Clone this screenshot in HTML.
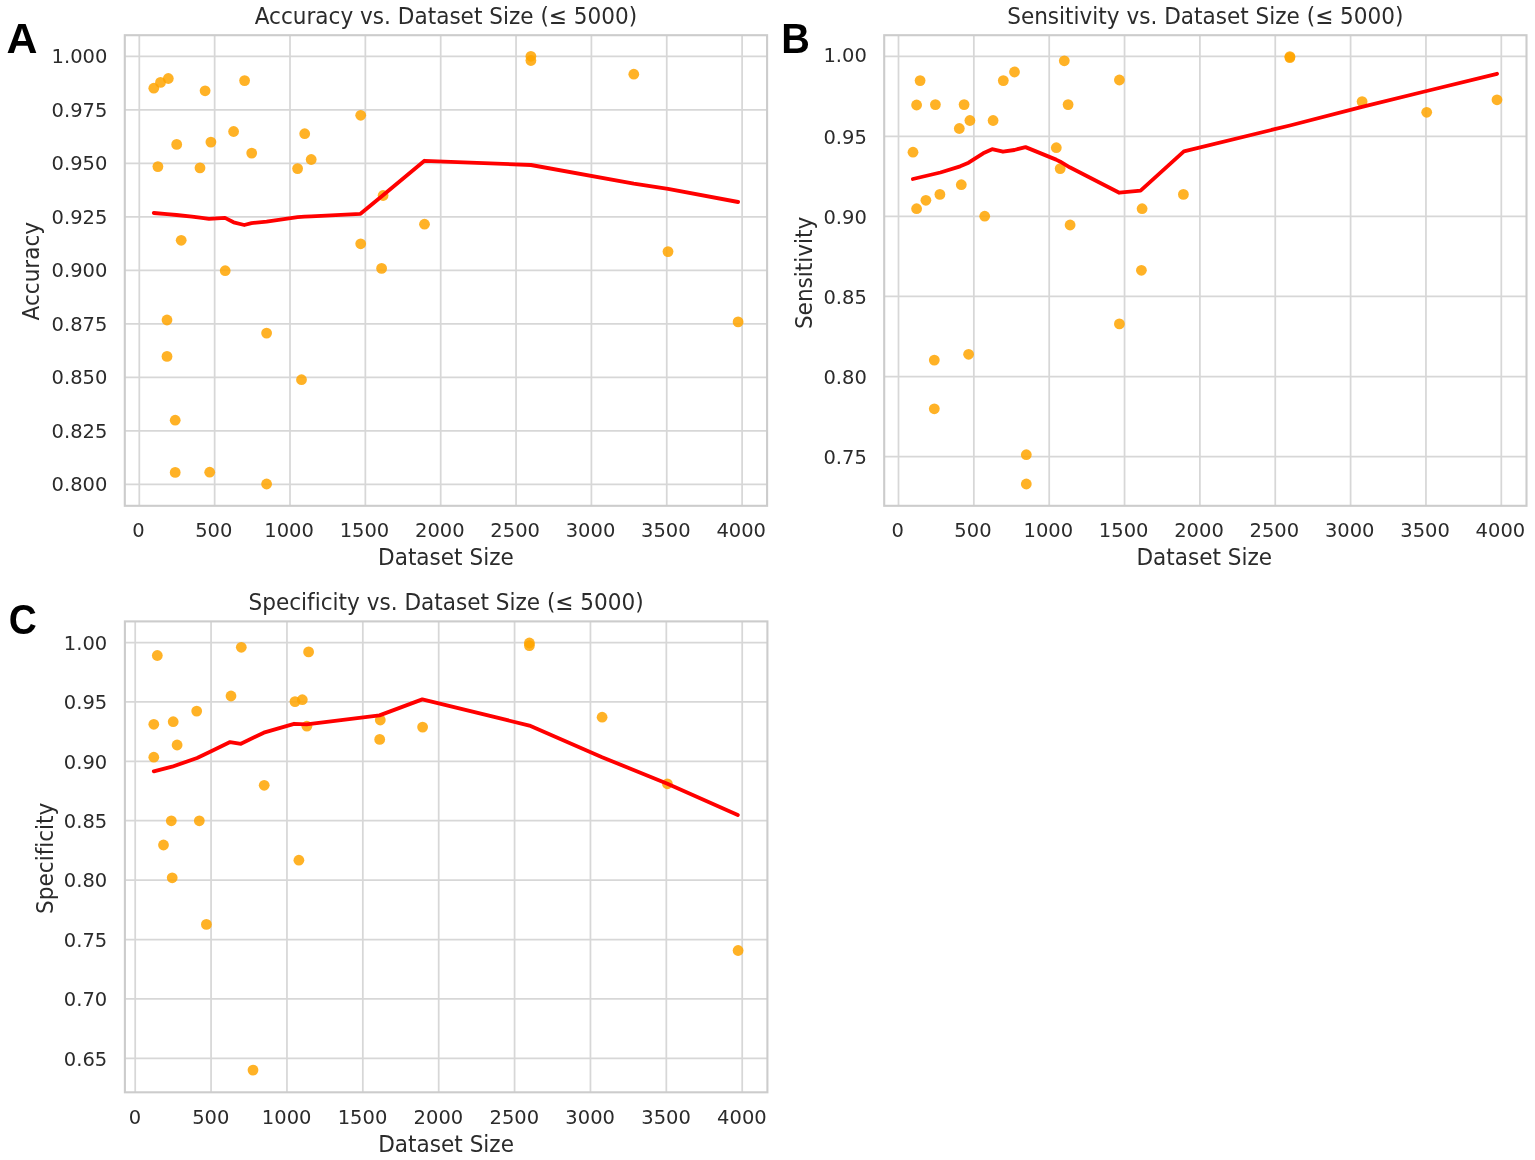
<!DOCTYPE html>
<html lang="en">
<head>
<meta charset="utf-8">
<title>Metrics vs. Dataset Size</title>
<style>
html,body{margin:0;padding:0;background:#ffffff;}
svg{display:block;}
svg text{font-family:"DejaVu Sans","Liberation Sans",sans-serif;fill:#2b2b2b;font-variant-ligatures:none;font-feature-settings:"liga" 0,"clig" 0;}
svg text.pl{font-family:"Liberation Sans",sans-serif;font-weight:bold;font-size:42.9px;fill:#000000;}
</style>
</head>
<body>
<svg width="1535" height="1160" viewBox="0 0 1535 1160">
<rect x="0" y="0" width="1535" height="1160" fill="#ffffff"/>
<line x1="139.3" y1="35.2" x2="139.3" y2="505.8" stroke="#d7d7d7" stroke-width="1.75"/>
<line x1="214.65" y1="35.2" x2="214.65" y2="505.8" stroke="#d7d7d7" stroke-width="1.75"/>
<line x1="290.0" y1="35.2" x2="290.0" y2="505.8" stroke="#d7d7d7" stroke-width="1.75"/>
<line x1="365.35" y1="35.2" x2="365.35" y2="505.8" stroke="#d7d7d7" stroke-width="1.75"/>
<line x1="440.7" y1="35.2" x2="440.7" y2="505.8" stroke="#d7d7d7" stroke-width="1.75"/>
<line x1="516.05" y1="35.2" x2="516.05" y2="505.8" stroke="#d7d7d7" stroke-width="1.75"/>
<line x1="591.4" y1="35.2" x2="591.4" y2="505.8" stroke="#d7d7d7" stroke-width="1.75"/>
<line x1="666.75" y1="35.2" x2="666.75" y2="505.8" stroke="#d7d7d7" stroke-width="1.75"/>
<line x1="742.1" y1="35.2" x2="742.1" y2="505.8" stroke="#d7d7d7" stroke-width="1.75"/>
<line x1="124.8" y1="56.3" x2="767.1" y2="56.3" stroke="#d7d7d7" stroke-width="1.75"/>
<line x1="124.8" y1="109.8" x2="767.1" y2="109.8" stroke="#d7d7d7" stroke-width="1.75"/>
<line x1="124.8" y1="163.3" x2="767.1" y2="163.3" stroke="#d7d7d7" stroke-width="1.75"/>
<line x1="124.8" y1="216.8" x2="767.1" y2="216.8" stroke="#d7d7d7" stroke-width="1.75"/>
<line x1="124.8" y1="270.3" x2="767.1" y2="270.3" stroke="#d7d7d7" stroke-width="1.75"/>
<line x1="124.8" y1="323.8" x2="767.1" y2="323.8" stroke="#d7d7d7" stroke-width="1.75"/>
<line x1="124.8" y1="377.3" x2="767.1" y2="377.3" stroke="#d7d7d7" stroke-width="1.75"/>
<line x1="124.8" y1="430.8" x2="767.1" y2="430.8" stroke="#d7d7d7" stroke-width="1.75"/>
<line x1="124.8" y1="484.3" x2="767.1" y2="484.3" stroke="#d7d7d7" stroke-width="1.75"/>
<g fill="#ffa500" fill-opacity="0.85">
<circle cx="153.8" cy="88.2" r="5.4"/>
<circle cx="160.5" cy="82.4" r="5.4"/>
<circle cx="168.3" cy="78.5" r="5.4"/>
<circle cx="205.1" cy="90.8" r="5.4"/>
<circle cx="244.6" cy="80.6" r="5.4"/>
<circle cx="360.7" cy="115.3" r="5.4"/>
<circle cx="233.6" cy="131.5" r="5.4"/>
<circle cx="304.7" cy="133.7" r="5.4"/>
<circle cx="176.7" cy="144.4" r="5.4"/>
<circle cx="210.9" cy="142.1" r="5.4"/>
<circle cx="251.7" cy="153.1" r="5.4"/>
<circle cx="311.2" cy="159.5" r="5.4"/>
<circle cx="157.9" cy="166.6" r="5.4"/>
<circle cx="200.0" cy="167.9" r="5.4"/>
<circle cx="297.6" cy="168.6" r="5.4"/>
<circle cx="383.1" cy="195.5" r="5.4"/>
<circle cx="424.5" cy="224.2" r="5.4"/>
<circle cx="181.2" cy="240.3" r="5.4"/>
<circle cx="360.7" cy="243.8" r="5.4"/>
<circle cx="225.2" cy="270.7" r="5.4"/>
<circle cx="381.6" cy="268.4" r="5.4"/>
<circle cx="167.0" cy="320.0" r="5.4"/>
<circle cx="167.0" cy="356.4" r="5.4"/>
<circle cx="266.6" cy="333.1" r="5.4"/>
<circle cx="301.5" cy="379.7" r="5.4"/>
<circle cx="175.2" cy="420.2" r="5.4"/>
<circle cx="175.2" cy="472.4" r="5.4"/>
<circle cx="209.7" cy="472.2" r="5.4"/>
<circle cx="266.6" cy="484.0" r="5.4"/>
<circle cx="530.9" cy="56.3" r="5.4"/>
<circle cx="530.9" cy="60.5" r="5.4"/>
<circle cx="633.8" cy="74.2" r="5.4"/>
<circle cx="668.0" cy="251.6" r="5.4"/>
<circle cx="738.1" cy="321.9" r="5.4"/>
</g>
<polyline points="153.8,213.0 167,214.1 176.5,215.0 192,216.6 200,217.7 209,218.8 225,217.9 233.6,222.3 244.3,225.0 251.5,223.1 266.6,221.7 297.6,217.2 304.7,216.7 311.2,216.4 360.5,213.8 383,195.2 424.5,160.8 531,165.0 633.8,183.7 668,188.8 738.1,202.0" fill="none" stroke="#ff0000" stroke-width="3.85" stroke-linejoin="round" stroke-linecap="round"/>
<rect x="124.8" y="35.2" width="642.30" height="470.60" fill="none" stroke="#cccccc" stroke-width="2.1"/>
<text transform="translate(445.9,23.6) scale(1,1.065)" font-size="21.6" text-anchor="middle">Accuracy vs. Dataset Size (≤ 5000)</text>
<text transform="translate(138.40,537.0) scale(1,1.025)" font-size="19.5" text-anchor="middle">0</text>
<text transform="translate(213.75,537.0) scale(1,1.025)" font-size="19.5" text-anchor="middle">500</text>
<text transform="translate(289.10,537.0) scale(1,1.025)" font-size="19.5" text-anchor="middle">1000</text>
<text transform="translate(364.45,537.0) scale(1,1.025)" font-size="19.5" text-anchor="middle">1500</text>
<text transform="translate(439.80,537.0) scale(1,1.025)" font-size="19.5" text-anchor="middle">2000</text>
<text transform="translate(515.15,537.0) scale(1,1.025)" font-size="19.5" text-anchor="middle">2500</text>
<text transform="translate(590.50,537.0) scale(1,1.025)" font-size="19.5" text-anchor="middle">3000</text>
<text transform="translate(665.85,537.0) scale(1,1.025)" font-size="19.5" text-anchor="middle">3500</text>
<text transform="translate(741.20,537.0) scale(1,1.025)" font-size="19.5" text-anchor="middle">4000</text>
<text transform="translate(107.4,63.0) scale(1,1.025)" font-size="19.5" text-anchor="end">1.000</text>
<text transform="translate(107.4,116.5) scale(1,1.025)" font-size="19.5" text-anchor="end">0.975</text>
<text transform="translate(107.4,170.0) scale(1,1.025)" font-size="19.5" text-anchor="end">0.950</text>
<text transform="translate(107.4,223.5) scale(1,1.025)" font-size="19.5" text-anchor="end">0.925</text>
<text transform="translate(107.4,277.0) scale(1,1.025)" font-size="19.5" text-anchor="end">0.900</text>
<text transform="translate(107.4,330.5) scale(1,1.025)" font-size="19.5" text-anchor="end">0.875</text>
<text transform="translate(107.4,384.0) scale(1,1.025)" font-size="19.5" text-anchor="end">0.850</text>
<text transform="translate(107.4,437.5) scale(1,1.025)" font-size="19.5" text-anchor="end">0.825</text>
<text transform="translate(107.4,491.0) scale(1,1.025)" font-size="19.5" text-anchor="end">0.800</text>
<text transform="translate(445.9,565.1) scale(1,1.065)" font-size="21.6" text-anchor="middle">Dataset Size</text>
<text transform="translate(39.1,271.2) rotate(-90) scale(1,1.065)" font-size="21.6" text-anchor="middle">Accuracy</text>
<text transform="translate(6.5,52.9) scale(1,1)" class="pl">A</text>
<line x1="898.5" y1="35.2" x2="898.5" y2="505.8" stroke="#d7d7d7" stroke-width="1.75"/>
<line x1="973.85" y1="35.2" x2="973.85" y2="505.8" stroke="#d7d7d7" stroke-width="1.75"/>
<line x1="1049.2" y1="35.2" x2="1049.2" y2="505.8" stroke="#d7d7d7" stroke-width="1.75"/>
<line x1="1124.55" y1="35.2" x2="1124.55" y2="505.8" stroke="#d7d7d7" stroke-width="1.75"/>
<line x1="1199.9" y1="35.2" x2="1199.9" y2="505.8" stroke="#d7d7d7" stroke-width="1.75"/>
<line x1="1275.25" y1="35.2" x2="1275.25" y2="505.8" stroke="#d7d7d7" stroke-width="1.75"/>
<line x1="1350.6" y1="35.2" x2="1350.6" y2="505.8" stroke="#d7d7d7" stroke-width="1.75"/>
<line x1="1425.95" y1="35.2" x2="1425.95" y2="505.8" stroke="#d7d7d7" stroke-width="1.75"/>
<line x1="1501.3" y1="35.2" x2="1501.3" y2="505.8" stroke="#d7d7d7" stroke-width="1.75"/>
<line x1="884.2" y1="56.3" x2="1526.5" y2="56.3" stroke="#d7d7d7" stroke-width="1.75"/>
<line x1="884.2" y1="136.35" x2="1526.5" y2="136.35" stroke="#d7d7d7" stroke-width="1.75"/>
<line x1="884.2" y1="216.4" x2="1526.5" y2="216.4" stroke="#d7d7d7" stroke-width="1.75"/>
<line x1="884.2" y1="296.45" x2="1526.5" y2="296.45" stroke="#d7d7d7" stroke-width="1.75"/>
<line x1="884.2" y1="376.5" x2="1526.5" y2="376.5" stroke="#d7d7d7" stroke-width="1.75"/>
<line x1="884.2" y1="456.55" x2="1526.5" y2="456.55" stroke="#d7d7d7" stroke-width="1.75"/>
<g fill="#ffa500" fill-opacity="0.85">
<circle cx="920.1" cy="80.6" r="5.4"/>
<circle cx="916.6" cy="105.0" r="5.4"/>
<circle cx="935.4" cy="104.6" r="5.4"/>
<circle cx="964.1" cy="104.6" r="5.4"/>
<circle cx="1003.3" cy="80.6" r="5.4"/>
<circle cx="1014.5" cy="72.0" r="5.4"/>
<circle cx="1064.3" cy="60.8" r="5.4"/>
<circle cx="1119.4" cy="80.0" r="5.4"/>
<circle cx="1068.1" cy="104.6" r="5.4"/>
<circle cx="969.9" cy="120.5" r="5.4"/>
<circle cx="993.1" cy="120.5" r="5.4"/>
<circle cx="959.3" cy="128.5" r="5.4"/>
<circle cx="913.0" cy="152.2" r="5.4"/>
<circle cx="1056.3" cy="147.7" r="5.4"/>
<circle cx="1060.2" cy="168.6" r="5.4"/>
<circle cx="961.3" cy="184.7" r="5.4"/>
<circle cx="939.9" cy="194.4" r="5.4"/>
<circle cx="925.9" cy="200.3" r="5.4"/>
<circle cx="916.6" cy="208.7" r="5.4"/>
<circle cx="984.7" cy="216.2" r="5.4"/>
<circle cx="1070.1" cy="225.0" r="5.4"/>
<circle cx="1142.1" cy="208.7" r="5.4"/>
<circle cx="1183.4" cy="194.4" r="5.4"/>
<circle cx="1141.4" cy="270.3" r="5.4"/>
<circle cx="1119.4" cy="323.9" r="5.4"/>
<circle cx="934.3" cy="360.1" r="5.4"/>
<circle cx="968.6" cy="354.3" r="5.4"/>
<circle cx="934.3" cy="408.8" r="5.4"/>
<circle cx="1026.3" cy="454.7" r="5.4"/>
<circle cx="1026.3" cy="484.0" r="5.4"/>
<circle cx="1289.9" cy="56.6" r="5.4"/>
<circle cx="1289.9" cy="57.6" r="5.4"/>
<circle cx="1362.1" cy="101.6" r="5.4"/>
<circle cx="1426.7" cy="112.3" r="5.4"/>
<circle cx="1497.0" cy="99.8" r="5.4"/>
</g>
<polyline points="912.9,179.0 940.4,172.5 960.2,166.3 968.6,162.7 983.2,153.3 992.1,149.2 1003.0,151.7 1014.4,150.0 1025.5,147.1 1056.1,159.6 1060.3,161.7 1069.7,167.3 1119.3,192.7 1140.6,190.7 1183.9,151.3 1289.9,125.5 1362.1,106.9 1426.7,91.0 1497.0,73.8" fill="none" stroke="#ff0000" stroke-width="3.85" stroke-linejoin="round" stroke-linecap="round"/>
<rect x="884.2" y="35.2" width="642.30" height="470.60" fill="none" stroke="#cccccc" stroke-width="2.1"/>
<text transform="translate(1205.3,23.6) scale(1,1.065)" font-size="21.6" text-anchor="middle">Sensitivity vs. Dataset Size (≤ 5000)</text>
<text transform="translate(897.60,537.0) scale(1,1.025)" font-size="19.5" text-anchor="middle">0</text>
<text transform="translate(972.95,537.0) scale(1,1.025)" font-size="19.5" text-anchor="middle">500</text>
<text transform="translate(1048.30,537.0) scale(1,1.025)" font-size="19.5" text-anchor="middle">1000</text>
<text transform="translate(1123.65,537.0) scale(1,1.025)" font-size="19.5" text-anchor="middle">1500</text>
<text transform="translate(1199.00,537.0) scale(1,1.025)" font-size="19.5" text-anchor="middle">2000</text>
<text transform="translate(1274.35,537.0) scale(1,1.025)" font-size="19.5" text-anchor="middle">2500</text>
<text transform="translate(1349.70,537.0) scale(1,1.025)" font-size="19.5" text-anchor="middle">3000</text>
<text transform="translate(1425.05,537.0) scale(1,1.025)" font-size="19.5" text-anchor="middle">3500</text>
<text transform="translate(1500.40,537.0) scale(1,1.025)" font-size="19.5" text-anchor="middle">4000</text>
<text transform="translate(866.8,62.3) scale(1,1.025)" font-size="19.5" text-anchor="end">1.00</text>
<text transform="translate(866.8,143.5) scale(1,1.025)" font-size="19.5" text-anchor="end">0.95</text>
<text transform="translate(866.8,223.6) scale(1,1.025)" font-size="19.5" text-anchor="end">0.90</text>
<text transform="translate(866.8,303.6) scale(1,1.025)" font-size="19.5" text-anchor="end">0.85</text>
<text transform="translate(866.8,383.7) scale(1,1.025)" font-size="19.5" text-anchor="end">0.80</text>
<text transform="translate(866.8,463.8) scale(1,1.025)" font-size="19.5" text-anchor="end">0.75</text>
<text transform="translate(1204.3,565.1) scale(1,1.065)" font-size="21.6" text-anchor="middle">Dataset Size</text>
<text transform="translate(812.0,272.9) rotate(-90) scale(1,1.065)" font-size="21.6" text-anchor="middle">Sensitivity</text>
<text transform="translate(781.25,52.9) scale(0.924,1)" class="pl">B</text>
<line x1="135.2" y1="621.4" x2="135.2" y2="1092.3" stroke="#d7d7d7" stroke-width="1.75"/>
<line x1="211.07" y1="621.4" x2="211.07" y2="1092.3" stroke="#d7d7d7" stroke-width="1.75"/>
<line x1="286.95" y1="621.4" x2="286.95" y2="1092.3" stroke="#d7d7d7" stroke-width="1.75"/>
<line x1="362.82" y1="621.4" x2="362.82" y2="1092.3" stroke="#d7d7d7" stroke-width="1.75"/>
<line x1="438.7" y1="621.4" x2="438.7" y2="1092.3" stroke="#d7d7d7" stroke-width="1.75"/>
<line x1="514.58" y1="621.4" x2="514.58" y2="1092.3" stroke="#d7d7d7" stroke-width="1.75"/>
<line x1="590.45" y1="621.4" x2="590.45" y2="1092.3" stroke="#d7d7d7" stroke-width="1.75"/>
<line x1="666.33" y1="621.4" x2="666.33" y2="1092.3" stroke="#d7d7d7" stroke-width="1.75"/>
<line x1="742.2" y1="621.4" x2="742.2" y2="1092.3" stroke="#d7d7d7" stroke-width="1.75"/>
<line x1="124.9" y1="642.5" x2="767.4" y2="642.5" stroke="#d7d7d7" stroke-width="1.75"/>
<line x1="124.9" y1="701.9" x2="767.4" y2="701.9" stroke="#d7d7d7" stroke-width="1.75"/>
<line x1="124.9" y1="761.3" x2="767.4" y2="761.3" stroke="#d7d7d7" stroke-width="1.75"/>
<line x1="124.9" y1="820.7" x2="767.4" y2="820.7" stroke="#d7d7d7" stroke-width="1.75"/>
<line x1="124.9" y1="880.1" x2="767.4" y2="880.1" stroke="#d7d7d7" stroke-width="1.75"/>
<line x1="124.9" y1="939.5" x2="767.4" y2="939.5" stroke="#d7d7d7" stroke-width="1.75"/>
<line x1="124.9" y1="998.9" x2="767.4" y2="998.9" stroke="#d7d7d7" stroke-width="1.75"/>
<line x1="124.9" y1="1058.3" x2="767.4" y2="1058.3" stroke="#d7d7d7" stroke-width="1.75"/>
<g fill="#ffa500" fill-opacity="0.85">
<circle cx="157.3" cy="655.5" r="5.4"/>
<circle cx="241.3" cy="647.3" r="5.4"/>
<circle cx="308.6" cy="651.9" r="5.4"/>
<circle cx="231.0" cy="696.0" r="5.4"/>
<circle cx="295.0" cy="701.6" r="5.4"/>
<circle cx="302.3" cy="699.7" r="5.4"/>
<circle cx="196.7" cy="711.1" r="5.4"/>
<circle cx="153.8" cy="724.3" r="5.4"/>
<circle cx="173.2" cy="721.7" r="5.4"/>
<circle cx="177.1" cy="745.0" r="5.4"/>
<circle cx="153.8" cy="757.2" r="5.4"/>
<circle cx="306.9" cy="726.2" r="5.4"/>
<circle cx="380.3" cy="720.0" r="5.4"/>
<circle cx="379.7" cy="739.4" r="5.4"/>
<circle cx="422.6" cy="727.1" r="5.4"/>
<circle cx="264.2" cy="785.3" r="5.4"/>
<circle cx="171.3" cy="820.8" r="5.4"/>
<circle cx="199.3" cy="820.8" r="5.4"/>
<circle cx="163.5" cy="845.0" r="5.4"/>
<circle cx="298.9" cy="860.2" r="5.4"/>
<circle cx="172.2" cy="877.8" r="5.4"/>
<circle cx="206.4" cy="924.4" r="5.4"/>
<circle cx="253.0" cy="1070.1" r="5.4"/>
<circle cx="738.1" cy="950.5" r="5.4"/>
<circle cx="529.4" cy="643.0" r="5.4"/>
<circle cx="529.4" cy="645.6" r="5.4"/>
<circle cx="602.1" cy="717.2" r="5.4"/>
<circle cx="667.4" cy="783.8" r="5.4"/>
</g>
<polyline points="153.8,771.3 172.1,766.7 197.1,758.0 211.7,751.1 230.1,742.1 240.9,743.8 263.8,732.7 294.1,723.8 306.6,724.4 379.5,715.4 422.3,699.4 529.4,725.6 602.1,757.2 667.4,783.8 737.8,815.0" fill="none" stroke="#ff0000" stroke-width="3.85" stroke-linejoin="round" stroke-linecap="round"/>
<rect x="124.9" y="621.4" width="642.50" height="470.90" fill="none" stroke="#cccccc" stroke-width="2.1"/>
<text transform="translate(446.1,609.8) scale(1,1.065)" font-size="21.6" text-anchor="middle">Specificity vs. Dataset Size (≤ 5000)</text>
<text transform="translate(134.90,1123.9) scale(1,1.025)" font-size="19.5" text-anchor="middle">0</text>
<text transform="translate(210.77,1123.9) scale(1,1.025)" font-size="19.5" text-anchor="middle">500</text>
<text transform="translate(286.65,1123.9) scale(1,1.025)" font-size="19.5" text-anchor="middle">1000</text>
<text transform="translate(362.52,1123.9) scale(1,1.025)" font-size="19.5" text-anchor="middle">1500</text>
<text transform="translate(438.40,1123.9) scale(1,1.025)" font-size="19.5" text-anchor="middle">2000</text>
<text transform="translate(514.28,1123.9) scale(1,1.025)" font-size="19.5" text-anchor="middle">2500</text>
<text transform="translate(590.15,1123.9) scale(1,1.025)" font-size="19.5" text-anchor="middle">3000</text>
<text transform="translate(666.03,1123.9) scale(1,1.025)" font-size="19.5" text-anchor="middle">3500</text>
<text transform="translate(741.90,1123.9) scale(1,1.025)" font-size="19.5" text-anchor="middle">4000</text>
<text transform="translate(107.2,649.8) scale(1,1.025)" font-size="19.5" text-anchor="end">1.00</text>
<text transform="translate(107.2,709.2) scale(1,1.025)" font-size="19.5" text-anchor="end">0.95</text>
<text transform="translate(107.2,768.6) scale(1,1.025)" font-size="19.5" text-anchor="end">0.90</text>
<text transform="translate(107.2,828.0) scale(1,1.025)" font-size="19.5" text-anchor="end">0.85</text>
<text transform="translate(107.2,887.4) scale(1,1.025)" font-size="19.5" text-anchor="end">0.80</text>
<text transform="translate(107.2,946.8) scale(1,1.025)" font-size="19.5" text-anchor="end">0.75</text>
<text transform="translate(107.2,1006.2) scale(1,1.025)" font-size="19.5" text-anchor="end">0.70</text>
<text transform="translate(107.2,1065.6) scale(1,1.025)" font-size="19.5" text-anchor="end">0.65</text>
<text transform="translate(446.1,1151.6) scale(1,1.065)" font-size="21.6" text-anchor="middle">Dataset Size</text>
<text transform="translate(53.0,858.3) rotate(-90) scale(1,1.065)" font-size="21.6" text-anchor="middle">Specificity</text>
<text transform="translate(8.8,634.1) scale(0.906,1)" class="pl">C</text>
</svg>
</body>
</html>
